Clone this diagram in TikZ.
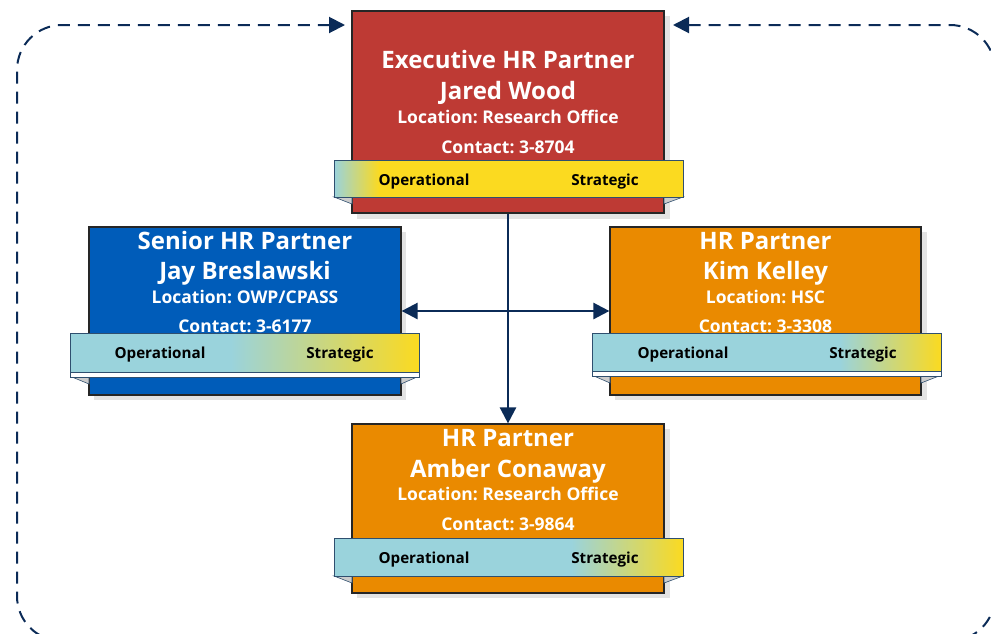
\documentclass[tikz,border=0pt]{standalone}
\usepackage{fontspec}
\setmainfont{Open Sans}
\frenchspacing
\usetikzlibrary{arrows.meta}

\definecolor{navy}{HTML}{0B2B57}
\definecolor{execred}{HTML}{BE3A34}
\definecolor{seniorblue}{HTML}{005CB9}
\definecolor{partnerorange}{HTML}{EA8A00}
\definecolor{bandblue}{HTML}{9AD3DC}
\definecolor{bandyellow}{HTML}{FBDA20}
\definecolor{bandline}{HTML}{2F4F6F}

% gradients of the Operational / Strategic bands
\pgfdeclarehorizontalshading{bandexec}{100bp}{color(0bp)=(bandblue); color(25bp)=(bandblue); color(31.5bp)=(bandyellow); color(100bp)=(bandyellow)}
\pgfdeclarehorizontalshading{bandsenior}{100bp}{color(0bp)=(bandblue); color(48bp)=(bandblue); color(75bp)=(bandyellow); color(100bp)=(bandyellow)}
\pgfdeclarehorizontalshading{bandkelley}{100bp}{color(0bp)=(bandblue); color(60.5bp)=(bandblue); color(75bp)=(bandyellow); color(100bp)=(bandyellow)}
\pgfdeclarehorizontalshading{bandconaway}{100bp}{color(0bp)=(bandblue); color(59bp)=(bandblue); color(75bp)=(bandyellow); color(100bp)=(bandyellow)}

\begin{document}
\begin{tikzpicture}[x=1pt,y=-1pt,
    card/.style={draw=black!85,line width=1.2pt,minimum width=312pt,inner sep=0pt},
    band/.style={draw=bandline,line width=1pt,minimum width=349pt,inner sep=0pt},
    fold/.style={fill=gray!40,draw=bandline,line width=0.6pt},
    strip/.style={fill=white,draw=bandline,line width=0.8pt},
    cardshadow/.style={fill=gray!22},
    role/.style={anchor=base,text=white,font=\fontsize{24}{28}\selectfont\bfseries,inner sep=0pt},
    info/.style={anchor=base,text=white,font=\fontsize{17.5}{21}\selectfont\bfseries,inner sep=0pt},
    bandtext/.style={anchor=base,text=black,font=\fontsize{15.2}{18}\selectfont\bfseries,inner sep=0pt},
    link/.style={draw=navy,line width=2.5pt,arrows={-Triangle[length=16pt,width=16pt]}},
    feedback/.style={draw=navy,line width=2pt,dash pattern=on 12pt off 8pt,rounded corners=45pt,
        arrows={Triangle[length=16pt,width=16pt]-Triangle[length=16pt,width=16pt]}}]
\clip (0,0) rectangle (991,633);

% dashed loop round the whole team
\draw[feedback] (673,25) -- (995,25) -- (995,641) -- (17,641) -- (17,25) -- (345,25);

% shadows
\fill[cardshadow] (357,16) rectangle (670,219);
\fill[cardshadow] (94,232) rectangle (406,400);
\fill[cardshadow] (615,232) rectangle (927,400);
\fill[cardshadow] (357,429) rectangle (670,598);

% cards
\node[card,fill=execred,minimum height=202pt] (exec) at (508,112) {};
\node[card,fill=seniorblue,minimum height=168pt] (senior) at (245,311) {};
\node[card,fill=partnerorange,minimum width=311pt,minimum height=168pt] (kelley) at (765.5,311) {};
\node[card,fill=partnerorange,minimum height=169pt] (conaway) at (508,508.5) {};

% Executive HR Partner
\node[role] (exec-role) at (508,68) {Executive HR Partner};
\node[role] (exec-name) at (508,99) {Jared Wood};
\node[info] (exec-loc) at (508,123) {Location: Research Office};
\node[info] (exec-tel) at (508,153) {Contact: 3-8704};
\fill[fold] (334,197) -- (352,197) -- (352,204) -- cycle;
\fill[fold] (683,197) -- (664,197) -- (664,204) -- cycle;
\node[band,shading=bandexec,minimum height=37pt] (exec-band) at (508.5,178.5) {};
\node[bandtext] (exec-op) at (424,185.5) {Operational};
\node[bandtext] (exec-st) at (605,185.5) {Strategic};

% Senior HR Partner
\node[role] (senior-role) at (245,249) {Senior HR Partner};
\node[role] (senior-name) at (245,279) {Jay Breslawski};
\node[info] (senior-loc) at (245,303) {Location: OWP/CPASS};
\node[info] (senior-tel) at (245,332) {Contact: 3-6177};
\fill[fold] (72,377) -- (89,377) -- (89,384) -- cycle;
\fill[fold] (417,377) -- (401,377) -- (401,384) -- cycle;
\draw[strip] (70,372) rectangle (419,377);
\node[band,shading=bandsenior,minimum height=39pt] (senior-band) at (244.5,352.5) {};
\node[bandtext] (senior-op) at (160,358.5) {Operational};
\node[bandtext] (senior-st) at (340,358.5) {Strategic};

% HR Partner, HSC
\node[role] (kelley-role) at (765.5,249) {HR Partner};
\node[role] (kelley-name) at (765.5,279) {Kim Kelley};
\node[info] (kelley-loc) at (765.5,303) {Location: HSC};
\node[info] (kelley-tel) at (765.5,332) {Contact: 3-3308};
\fill[fold] (594,376) -- (610,376) -- (610,383) -- cycle;
\fill[fold] (939,376) -- (921,376) -- (921,383) -- cycle;
\draw[strip] (592,371) rectangle (941,376);
\node[band,shading=bandkelley,minimum height=38pt] (kelley-band) at (766.5,352) {};
\node[bandtext] (kelley-op) at (683,358.5) {Operational};
\node[bandtext] (kelley-st) at (863,358.5) {Strategic};

% HR Partner, Research Office
\node[role] (conaway-role) at (508,446) {HR Partner};
\node[role] (conaway-name) at (508,477) {Amber Conaway};
\node[info] (conaway-loc) at (508,500) {Location: Research Office};
\node[info] (conaway-tel) at (508,530) {Contact: 3-9864};
\fill[fold] (334,576) -- (352,576) -- (352,583) -- cycle;
\fill[fold] (683,576) -- (664,576) -- (664,583) -- cycle;
\node[band,shading=bandconaway,minimum height=38pt] (conaway-band) at (508.5,557) {};
\node[bandtext] (conaway-op) at (424,563.5) {Operational};
\node[bandtext] (conaway-st) at (605,563.5) {Strategic};

% reporting lines
\draw[link,arrows={Triangle[length=16pt,width=16pt]-Triangle[length=16pt,width=16pt]}] (senior.east) -- (kelley.west);
\draw[link] (exec.south) -- (conaway.north);
\end{tikzpicture}
\end{document}
